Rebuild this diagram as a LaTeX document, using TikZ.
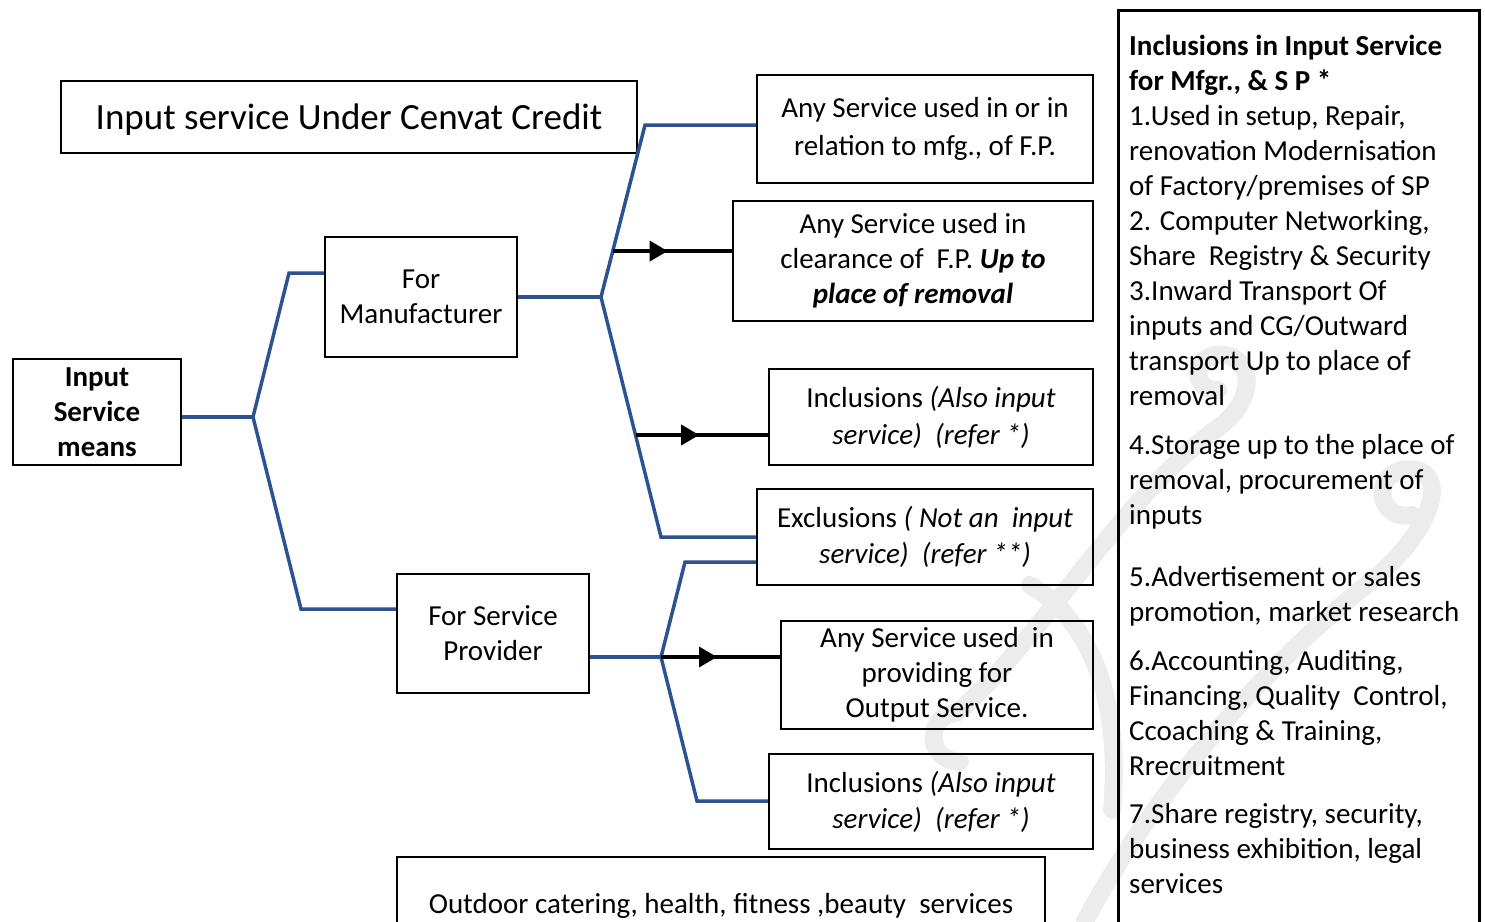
\documentclass[tikz,border=0pt]{standalone}
\usepackage{fontspec}
\setmainfont{Carlito}
\usetikzlibrary{arrows.meta,calc,decorations.markings}
\definecolor{treeblue}{RGB}{44,82,145}
\definecolor{wmgray}{RGB}{236,236,236}
\tikzset{
  box/.style={draw,line width=1.6pt,align=center,inner sep=0pt},
  branch/.style={draw=treeblue,line width=3.5pt},
  feed/.style={line width=3.5pt,postaction={decorate},
    decoration={markings,mark=at position #1 with
      {\arrow{Triangle[length=18pt,width=20pt]}}}},
  swirl/.style={draw=wmgray,line width=18pt,line cap=round}
}

\begin{document}
\begin{tikzpicture}[x=1pt,y=-1pt,font=\fontsize{29}{35}\selectfont]
\useasboundingbox (0,0) rectangle (1485,921);

% faint page ornament behind the boxes
\draw[swirl] (960,762) .. controls (925,760) and (925,715) .. (958,712)
  .. controls (1040,640) and (1120,500) .. (1215,430)
  .. controls (1262,398) and (1252,350) .. (1215,355)
  .. controls (1190,360) and (1195,392) .. (1218,390);
\draw[swirl] (1085,921) .. controls (1150,800) and (1250,680) .. (1360,590)
  .. controls (1440,530) and (1452,462) .. (1402,470)
  .. controls (1370,478) and (1380,522) .. (1412,515);
\draw[swirl] (1030,585) .. controls (1090,620) and (1122,700) .. (1112,810);

\node (title) [box,minimum width=576pt,minimum height=72pt,
      text height=32pt,text depth=7pt,
      font=\fontsize{37}{44}\selectfont] at (349,117)
      {Input service Under Cenvat Credit};
\node (means) [box,minimum width=168pt,minimum height=106pt,
      font=\fontsize{29}{35}\selectfont\bfseries] at (97,412)
      {Input\\Service\\means};
\node (mfr) [box,minimum width=192pt,minimum height=120pt] at (421,297)
      {For\\Manufacturer};
\node (sp)  [box,minimum width=192pt,minimum height=119pt] at (493,633.5)
      {For Service\\Provider};
\node (use) [box,minimum width=336pt,minimum height=108pt,
      font=\fontsize{29}{38}\selectfont] at (925,129)
      {Any Service used in or in\\relation to mfg., of F.P.};
\node (clear) [box,minimum width=360pt,minimum height=120pt] at (913,261)
      {Any Service used in\\clearance of\ \ F.P. \textbf{\textit{Up to}}\\
       \textbf{\textit{place of removal}}};
\node (incm) [box,minimum width=324pt,minimum height=96pt,
      font=\fontsize{29}{37}\selectfont] at (931,417)
      {Inclusions \textit{(Also input}\\\textit{service)\ \ (refer *)}};
\node (excl) [box,minimum width=336pt,minimum height=96pt,
      font=\fontsize{29}{36}\selectfont] at (925,537)
      {Exclusions \textit{( Not an\ \ input}\\\textit{service)\ \ (refer **)}};
\node (outp) [box,minimum width=312pt,minimum height=108pt] at (937,675)
      {Any Service used\ \ in\\providing for\\Output Service.};
\node (incs) [box,minimum width=324pt,minimum height=95pt,
      font=\fontsize{29}{36}\selectfont] at (931,801.5)
      {Inclusions \textit{(Also input}\\\textit{service)\ \ (refer *)}};
\node (outd) [box,minimum width=648pt,minimum height=98pt] at (721,906)
      {Outdoor catering, health, fitness ,beauty\ \ services};

% side list of inclusions
\node (panel) [draw,line width=2.8pt,minimum width=361pt,minimum height=960pt,
      anchor=north west,inner sep=0pt] at (1117,9) {};
\node (incl) [anchor=north west,align=left,inner sep=0pt] at (1129,35)
      {\textbf{Inclusions in Input Service}\\
       \textbf{for Mfgr., \& S P *}\\
       1.Used in setup, Repair,\\
       renovation Modernisation\\
       of Factory/premises of SP\\
       2. Computer Networking,\\
       Share\ \ Registry \& Security\\
       3.Inward Transport Of\\
       inputs and CG/Outward\\
       transport Up to place of\\
       removal\\[14pt]
       4.Storage up to the place of\\
       removal, procurement of\\
       inputs\\[27pt]
       5.Advertisement or sales\\
       promotion, market research\\[14pt]
       6.Accounting, Auditing,\\
       Financing, Quality\ \ Control,\\
       Ccoaching \& Training,\\
       Rrecruitment\\[13pt]
       7.Share registry, security,\\
       business exhibition, legal\\
       services};

% first split
\coordinate (j1) at (253,417);
\coordinate (k1) at (289,273);
\coordinate (k2) at (301,609);
\draw[branch] (means.east |- j1) -- (j1);
\draw[branch] (mfr.west |- k1) -- (k1) -- (j1) -- (k2) -- (sp.west |- k2);

% manufacturer side
\coordinate (j2) at (601,297);
\coordinate (k3) at (645,125);
\coordinate (k4) at (661,537);
\draw[branch] (mfr.east) -- (j2);
\draw[branch] (use.west |- k3) -- (k3) -- (j2) -- (k4) -- (excl.west |- k4);
\coordinate (t1) at ($(j2)!0.267!(k3)$);
\coordinate (t2) at ($(j2)!0.575!(k4)$);
\draw[feed=0.46] (t1) -- (clear.west |- t1);
\draw[feed=0.48] (t2) -- (incm.west |- t2);

% service provider side
\coordinate (j3) at (661,657);
\coordinate (k5) at (685,562);
\coordinate (k6) at (697,801);
\draw[branch] (sp.east |- j3) -- (j3);
\draw[branch] (excl.west |- k5) -- (k5) -- (j3) -- (k6) -- (incs.west |- k6);
\draw[feed=0.47] (j3) -- (outp.west |- j3);
\end{tikzpicture}
\end{document}
